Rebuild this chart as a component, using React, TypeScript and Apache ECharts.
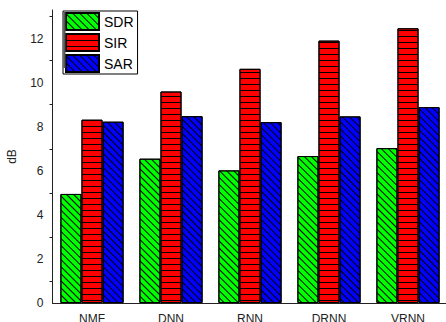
import React, { useEffect, useRef } from "react";
import * as echarts from "echarts";

const categories = ["NMF", "DNN", "RNN", "DRNN", "VRNN"];
const sdr = [4.95, 6.55, 6.02, 6.67, 7.03];
const sir = [8.32, 9.6, 10.63, 11.91, 12.47];
const sar = [8.23, 8.48, 8.21, 8.47, 8.89];
const yMajorTicks = [0, 2, 4, 6, 8, 10, 12];
const yMinorTicks = [1, 3, 5, 7, 9, 11, 13];

const FONT = "Liberation Sans, Arial, sans-serif";

export default function App() {
  const ref = useRef<HTMLDivElement>(null);
  useEffect(() => {
    if (!ref.current) return;
    const chart = echarts.init(ref.current, undefined, { renderer: "svg" });
    const diag = (rot: number) => ({
      symbol: "rect",
      symbolSize: 1,
      color: "#000",
      dashArrayX: [1, 0],
      dashArrayY: [1, 3.5],
      rotation: rot,
    });
    const barBase = {
      type: "bar" as const,
      barGap: "0%",
      barCategoryGap: "20%",
    };
    chart.setOption({
      animation: false,
      grid: {
        left: 52.5,
        right: -1.5,
        top: 10,
        bottom: 19,
        containLabel: false,
        outerBoundsMode: "none",
      },
      legend: {
        orient: "vertical",
        left: 63,
        top: 11,
        icon: "rect",
        itemWidth: 33,
        itemHeight: 17,
        itemGap: 2,
        padding: [1, 4, 1, 2],
        borderColor: "#000",
        borderWidth: 1,
        backgroundColor: "#fff",
        textStyle: { fontFamily: FONT, fontSize: 14, color: "#000" },
        data: ["SDR", "SIR", "SAR"],
      },
      graphic: [
        {
          type: "rect",
          left: 63.5,
          top: 12,
          z: 100,
          shape: { width: 2, height: 56 },
          style: { fill: "#555" },
        },
      ],
      xAxis: [
        {
          type: "category",
          data: categories,
          axisLine: { lineStyle: { color: "#222", width: 1 } },
          axisTick: { alignWithLabel: true, length: 5, lineStyle: { color: "#222" } },
          axisLabel: { fontFamily: FONT, fontSize: 12, color: "#222", margin: 10 },
        },
        {
          type: "category",
          data: categories,
          position: "bottom",
          axisLine: { show: false },
          axisTick: { length: 3, lineStyle: { color: "#222" } },
          axisLabel: { show: false },
        },
      ],
      yAxis: [
        {
          type: "value",
          min: 0,
          max: 13.3,
          interval: 1,
          name: "dB",
          nameLocation: "middle",
          nameGap: 35,
          nameTextStyle: { fontFamily: FONT, fontSize: 12, color: "#222" },
          splitLine: { show: false },
          axisLine: { show: true, lineStyle: { color: "#222", width: 1 } },
          axisTick: { length: 5, customValues: yMajorTicks, lineStyle: { color: "#222" } },
          axisLabel: {
            fontFamily: FONT,
            fontSize: 12,
            color: "#222",
            margin: 9,
            customValues: yMajorTicks,
          },
        },
        {
          type: "value",
          min: 0,
          max: 13.3,
          interval: 1,
          position: "left",
          splitLine: { show: false },
          axisLine: { show: false },
          axisTick: { show: true, length: 3, customValues: yMinorTicks, lineStyle: { color: "#222" } },
          axisLabel: { show: false },
        },
      ],
      series: [
        {
          ...barBase,
          name: "SDR",
          data: sdr,
          itemStyle: { color: "#00ff00", borderColor: "#000", borderWidth: 1, decal: diag(Math.PI / 4) },
        },
        {
          ...barBase,
          name: "SIR",
          data: sir,
          itemStyle: {
            color: "#ff0000",
            borderColor: "#000",
            borderWidth: 1,
            decal: {
              symbol: "rect",
              symbolSize: 1,
              color: "#000",
              dashArrayX: [1, 0],
              dashArrayY: [1, 5],
              rotation: 0,
            },
          },
        },
        {
          ...barBase,
          name: "SAR",
          data: sar,
          itemStyle: { color: "#0000ff", borderColor: "#000", borderWidth: 1, decal: diag(Math.PI / 4) },
        },
      ],
    });
    return () => chart.dispose();
  }, []);
  return <div ref={ref} style={{ width: 446, height: 322, position: "absolute", left: 0, top: 0 }} />;
}
